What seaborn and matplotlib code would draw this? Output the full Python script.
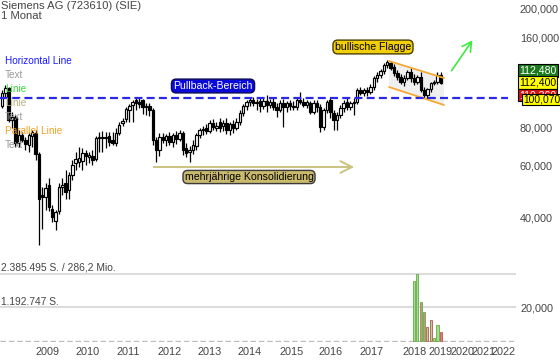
import matplotlib
matplotlib.use("Agg")
import matplotlib.pyplot as plt
import numpy as np
import pandas as pd
import seaborn as sns
from matplotlib.patches import Polygon

# ---------------- data (monthly candles, EUR) ----------------
opens = [94.4, 104.3, 108.4, 84.8, 86.8, 71.0, 75.6, 72.7, 70.0, 75.0,
         76.7, 65.3, 47.7, 47.0, 51.5, 42.8, 39.0, 42.1, 50.7, 52.3,
         49.5, 55.6, 61.0, 61.4, 61.9, 65.8, 63.8, 64.3, 62.9, 73.9,
         73.9, 74.4, 75.0, 72.7, 71.0, 76.7, 82.8, 85.4, 91.5, 95.1,
         98.9, 97.4, 98.9, 93.7, 94.4, 91.5, 72.7, 67.4, 74.4, 72.7,
         75.0, 71.6, 75.6, 73.3, 76.7, 68.4, 66.3, 67.4, 69.4, 75.6,
         78.5, 79.7, 77.9, 82.8, 79.7, 83.5, 80.9, 82.8, 78.5, 82.2,
         79.7, 83.5, 89.4, 94.4, 97.4, 98.9, 96.6, 98.1, 94.4, 98.1,
         95.1, 97.4, 93.7, 91.5, 96.6, 93.7, 96.6, 94.4, 93.7, 98.9,
         97.4, 95.1, 96.6, 90.2, 96.6, 93.7, 80.3, 91.5, 98.9, 89.4,
         84.8, 88.1, 93.0, 97.4, 93.7, 96.6, 97.4, 106.7, 104.3, 106.7,
         105.1, 109.2, 117.1, 119.8, 123.6, 129.3, 131.3, 127.4, 121.6, 118.0,
         113.5, 117.1, 122.6, 117.1, 113.5, 118.0, 106.7, 102.7, 107.6, 112.6,
         113.5, 119.8]
highs = [106.7, 110.9, 109.6, 90.2, 88.1, 78.5, 77.3, 74.4, 77.3, 78.5,
         78.5, 66.3, 50.7, 52.3, 54.3, 44.1, 42.5, 52.3, 54.3, 57.8,
         56.9, 62.4, 66.3, 68.9, 68.4, 67.4, 66.3, 67.4, 75.0, 77.3,
         77.9, 77.3, 77.3, 77.3, 79.7, 83.5, 86.1, 93.7, 95.9, 98.9,
         100.4, 100.4, 99.6, 96.6, 96.6, 93.0, 74.4, 76.7, 76.7, 76.1,
         77.3, 76.7, 77.9, 78.5, 77.9, 71.0, 69.4, 72.7, 76.7, 79.7,
         80.9, 82.2, 84.8, 85.4, 83.5, 86.1, 84.8, 86.1, 83.5, 84.8,
         86.1, 91.5, 95.9, 98.9, 100.8, 100.8, 99.6, 100.8, 100.4, 102.7,
         99.6, 100.8, 96.6, 98.9, 99.6, 98.1, 98.9, 98.1, 101.2, 105.1,
         100.4, 98.9, 98.1, 98.9, 98.9, 95.9, 93.0, 98.9, 101.2, 91.5,
         90.2, 95.1, 98.9, 100.4, 98.1, 100.4, 108.4, 109.2, 108.4, 109.2,
         111.8, 118.9, 122.6, 125.5, 131.3, 134.4, 133.3, 130.3, 124.5, 120.7,
         119.8, 124.5, 126.4, 120.7, 119.8, 122.6, 109.6, 108.4, 113.5, 115.2,
         122.6, 122.6]
lows = [93.0, 101.2, 83.5, 79.7, 68.9, 68.9, 71.6, 67.4, 66.3, 68.9,
        62.4, 32.5, 36.7, 42.5, 42.1, 38.7, 36.4, 41.2, 47.7, 46.3,
        46.3, 53.5, 57.8, 59.1, 57.8, 60.0, 61.0, 60.0, 61.9, 66.3,
        66.3, 68.4, 69.4, 70.0, 69.4, 75.6, 80.9, 83.5, 83.5, 83.5,
        91.5, 93.0, 88.8, 88.1, 87.4, 70.0, 61.4, 64.3, 71.0, 69.4,
        70.0, 68.9, 70.5, 72.2, 64.8, 63.8, 61.4, 65.3, 67.4, 73.9,
        75.6, 76.1, 76.7, 78.5, 77.9, 77.3, 77.9, 76.1, 75.6, 76.7,
        78.5, 81.6, 87.4, 91.5, 94.4, 94.4, 91.5, 90.2, 92.3, 90.2,
        93.0, 91.5, 86.8, 90.2, 80.3, 90.2, 91.5, 91.5, 91.5, 95.9,
        93.7, 93.0, 88.8, 88.8, 90.2, 77.3, 78.5, 89.4, 86.1, 78.5,
        78.5, 86.1, 90.2, 91.5, 91.5, 88.1, 95.9, 102.7, 101.9, 101.9,
        103.5, 106.7, 113.5, 117.1, 120.7, 126.4, 124.5, 118.9, 115.2, 111.8,
        110.1, 115.2, 113.5, 110.9, 111.8, 105.1, 100.4, 99.6, 105.1, 110.9,
        111.8, 111.5]
closes = [104.3, 108.4, 84.8, 86.8, 71.0, 75.6, 72.7, 70.5, 75.6, 77.3,
          65.3, 46.3, 47.0, 50.3, 43.5, 40.2, 41.8, 50.7, 51.5, 48.8,
          55.6, 60.0, 62.9, 63.3, 65.8, 64.3, 64.8, 62.4, 73.9, 74.4,
          74.2, 73.9, 71.6, 71.0, 76.7, 81.6, 84.1, 92.3, 94.4, 97.4,
          96.6, 95.9, 93.7, 94.4, 91.5, 72.7, 67.4, 74.4, 72.7, 75.0,
          71.6, 75.6, 73.3, 76.7, 67.4, 65.8, 67.4, 70.0, 75.6, 78.5,
          79.1, 77.9, 82.8, 80.3, 80.9, 79.7, 82.8, 78.5, 82.2, 79.7,
          83.5, 89.4, 94.4, 97.4, 98.9, 96.6, 97.4, 94.4, 98.1, 95.1,
          97.4, 93.7, 91.5, 96.6, 93.7, 96.6, 94.4, 93.7, 98.9, 97.4,
          95.1, 97.4, 90.2, 96.6, 93.7, 80.3, 91.5, 97.4, 90.2, 84.8,
          88.1, 93.0, 96.6, 93.7, 96.6, 97.4, 106.7, 104.3, 106.7, 105.1,
          109.2, 117.1, 119.8, 123.6, 129.3, 132.3, 126.4, 121.6, 118.0, 113.5,
          117.1, 122.6, 117.1, 113.5, 118.0, 106.7, 102.7, 107.6, 112.6, 113.5,
          119.8, 112.48]

year_labels = ["2009", "2010", "2011", "2012", "2013", "2014", "2015",
               "2016", "2017", "2018", "2019", "2020", "2021", "2022"]
price_ticks = [40, 60, 80, 160, 200]

volume = [2146000, 2385495, 1395000, 1037000, 490000, 740000, 97000, 561000, 311000]
volume_dir = ["up", "up", "down", "down", "up", "up", "up", "up", "down"]
volume_max = 2385495

pullback_level = 100.07
tag_values = [112.48, 112.40, 110.36, 100.07]

# ---------------- layout helpers ----------------
W, H = 560, 362
STEP, X0 = 3.35, 2.0          # pixels per monthly candle, first candle pixel


def px2idx(px):
    return (px - X0) / STEP


def y2price(py):
    return 100 * 10 ** ((98.5 - py) / 300.0)


def fmt(v):
    return f"{v:.3f}".replace(".", ",")


year_tick_px = [48, 88, 128, 170, 210, 250, 292, 331, 372, 415, 441, 463, 484, 504]

sns.set_theme(style="white")
plt.rcParams['font.family'] = ['Liberation Sans', 'DejaVu Sans']
FS = 7.8
TXT = "#444444"

fig = plt.figure(figsize=(W / 100, H / 100), dpi=100)
fig.patch.set_facecolor("white")


def px_axes(x0, y0, x1, y1):
    return fig.add_axes([x0 / W, 1 - y1 / H, (x1 - x0) / W, (y1 - y0) / H])


ax = px_axes(0, 0, 510, 258)
axv = px_axes(0, 268, 516, 342)

df = pd.DataFrame({"o": opens, "h": highs, "l": lows, "c": closes})
df["i"] = np.arange(len(df))
df["up"] = df["c"] >= df["o"]

# wicks
ax.vlines(df["i"], df["l"], df["h"], color="black", lw=0.9, zorder=2)
# bodies
bottoms = np.minimum(df["o"], df["c"])
heights = np.maximum(np.abs(df["c"] - df["o"]), 0.25)
ax.bar(df["i"], heights, bottom=bottoms, width=0.74,
       color=np.where(df["up"], "white", "black"),
       edgecolor="black", linewidth=0.85, zorder=3)

ax.set_yscale("log")
ax.set_ylim(y2price(258), y2price(0))
ax.set_xlim(px2idx(0), px2idx(510))
for s in ax.spines.values():
    s.set_visible(False)
ax.set_xticks([])
ax.yaxis.tick_right()
ax.set_yticks(price_ticks)
ax.set_yticklabels([fmt(v) for v in price_ticks])
ax.yaxis.set_minor_locator(matplotlib.ticker.NullLocator())
ax.tick_params(axis="y", length=0, pad=7.2, labelsize=FS, labelcolor=TXT)

# pullback horizontal dashed line
ax.plot([px2idx(0), px2idx(508)], [pullback_level, pullback_level],
        color="#2a2ae6", lw=1.6, ls=(0, (3.6, 1.9)), zorder=5, clip_on=False)

# flag channel
fx0, fx1 = px2idx(389), px2idx(444)
up0, up1 = y2price(61), y2price(78)
lo0, lo1 = y2price(87), y2price(105)
ax.add_patch(Polygon([[fx0, up0], [fx1, up1], [fx1, lo1], [fx0, lo0]],
                     closed=True, facecolor="#efefef", edgecolor="none", zorder=1))
ax.plot([fx0, fx1], [up0, up1], color="#f5a833", lw=1.3, zorder=4)
ax.plot([fx0, fx1], [lo0, lo1], color="#f5a833", lw=1.3, zorder=4)

# green arrow
ax.annotate("", xy=(px2idx(474), y2price(38)), xytext=(px2idx(450), y2price(73)),
            arrowprops=dict(arrowstyle="->,head_length=0.55,head_width=0.3",
                            color="#3fe83f", lw=1.2), zorder=6)
# khaki consolidation arrow
ax.annotate("", xy=(px2idx(357), y2price(167)), xytext=(px2idx(151), y2price(167)),
            arrowprops=dict(arrowstyle="->,head_length=0.7,head_width=0.35",
                            color="#cbc382", lw=1.4), zorder=6)


def ftext(x, y, s, **kw):
    kw.setdefault("fontsize", FS)
    kw.setdefault("va", "center")
    return fig.text(x / W, 1 - y / H, s, **kw)


# boxed annotations
ftext(213, 86, "Pullback-Bereich", ha="center", color="white", fontsize=7.6,
      bbox=dict(boxstyle="round,pad=0.18,rounding_size=0.45", fc="#0a0ad8", ec="#0a0a55", lw=1.0))
ftext(373, 47, "bullische Flagge", ha="center", color="black", fontsize=7.6,
      bbox=dict(boxstyle="round,pad=0.18,rounding_size=0.45", fc="#f2cf06", ec="#4a4000", lw=1.0))
ftext(249, 177, "mehrjährige Konsolidierung", ha="center", color="black", fontsize=7.6,
      bbox=dict(boxstyle="round,pad=0.15,rounding_size=0.45", fc="#c9ba6c", ec="#3a3a3a", lw=1.0))

# title
ftext(1, 6, "Siemens AG (723610) (SIE)", color=TXT, fontsize=8.1)
ftext(1, 16, "1 Monat", color=TXT, fontsize=8.1)

# drawing-tool legend labels
legend_items = [("Horizontal Line", "#1a1aff"), ("Text", "#9a9a9a"), ("Linie", "#33dd33"),
                ("Linie", "#b8b07a"), ("Text", "#9a9a9a"), ("Parallel Linie", "#f2a020"),
                ("Text", "#9a9a9a")]
for k, (s, c) in enumerate(legend_items):
    ftext(5, 61 + 14 * k, s, color=c, fontsize=7.2, zorder=10)

# price tags on right axis
ftext(519, 70.5, fmt(tag_values[0]), color="white", fontsize=7.6,
      bbox=dict(boxstyle="square,pad=0.12", fc="#1b7a1b", ec="black", lw=0.8))
ftext(519, 82.5, fmt(tag_values[1]), color="black", fontsize=7.6,
      bbox=dict(boxstyle="square,pad=0.12", fc="#ffff00", ec="black", lw=0.8))
ftext(519, 95.0, fmt(tag_values[2]), color="white", fontsize=7.6,
      bbox=dict(boxstyle="square,pad=0.12", fc="#dd1111", ec="black", lw=0.8))
ftext(523, 99.5, fmt(tag_values[3]), color="black", fontsize=7.4,
      bbox=dict(boxstyle="square,pad=0.08", fc="#ffff00", ec="black", lw=0.8))

# ---------------- volume panel ----------------
n = len(closes)
vdf = pd.DataFrame({"i": np.arange(n - len(volume), n), "v": volume, "d": volume_dir})
sns.barplot(data=vdf, x="i", y="v", hue="d", native_scale=True, width=0.62,
            palette={"up": "#a9dc8e", "down": "#e38585"}, legend=False, ax=axv,
            saturation=1, zorder=3)
edge = {"up": "#62ad45", "down": "#bf5050"}
for p, d in zip(axv.patches, vdf["d"]):
    p.set_edgecolor(edge[d])
    p.set_linewidth(0.6)
axv.set_xlim(px2idx(0), px2idx(516))
axv.set_ylim(-46500, 2600000)
axv.axhline(volume_max, color="#dcdcdc", lw=1.5, zorder=1)
axv.axhline(volume_max / 2, color="#dcdcdc", lw=1.5, zorder=1)
axv.axhline(0, color="#bdbdbd", lw=1.0, ls=(0, (4, 2)), zorder=2)
for s in axv.spines.values():
    s.set_visible(False)
axv.set_xlabel("")
axv.set_ylabel("")
axv.set_xticks([px2idx(p) for p in year_tick_px])
axv.set_xticklabels(year_labels)
axv.tick_params(axis="x", length=0, pad=3.5, labelsize=FS, labelcolor=TXT)
axv.yaxis.tick_right()
axv.set_yticks([volume_max / 2])
axv.set_yticklabels(["20,000"])
axv.tick_params(axis="y", length=0, pad=3, labelsize=FS, labelcolor=TXT)

ftext(1, 268, "2.385.495 S. / 286,2 Mio.", color=TXT, fontsize=7.4)
ftext(1, 302, "1.192.747 S.", color=TXT, fontsize=7.4)

fig.savefig("out.png", dpi=100, facecolor="white")
